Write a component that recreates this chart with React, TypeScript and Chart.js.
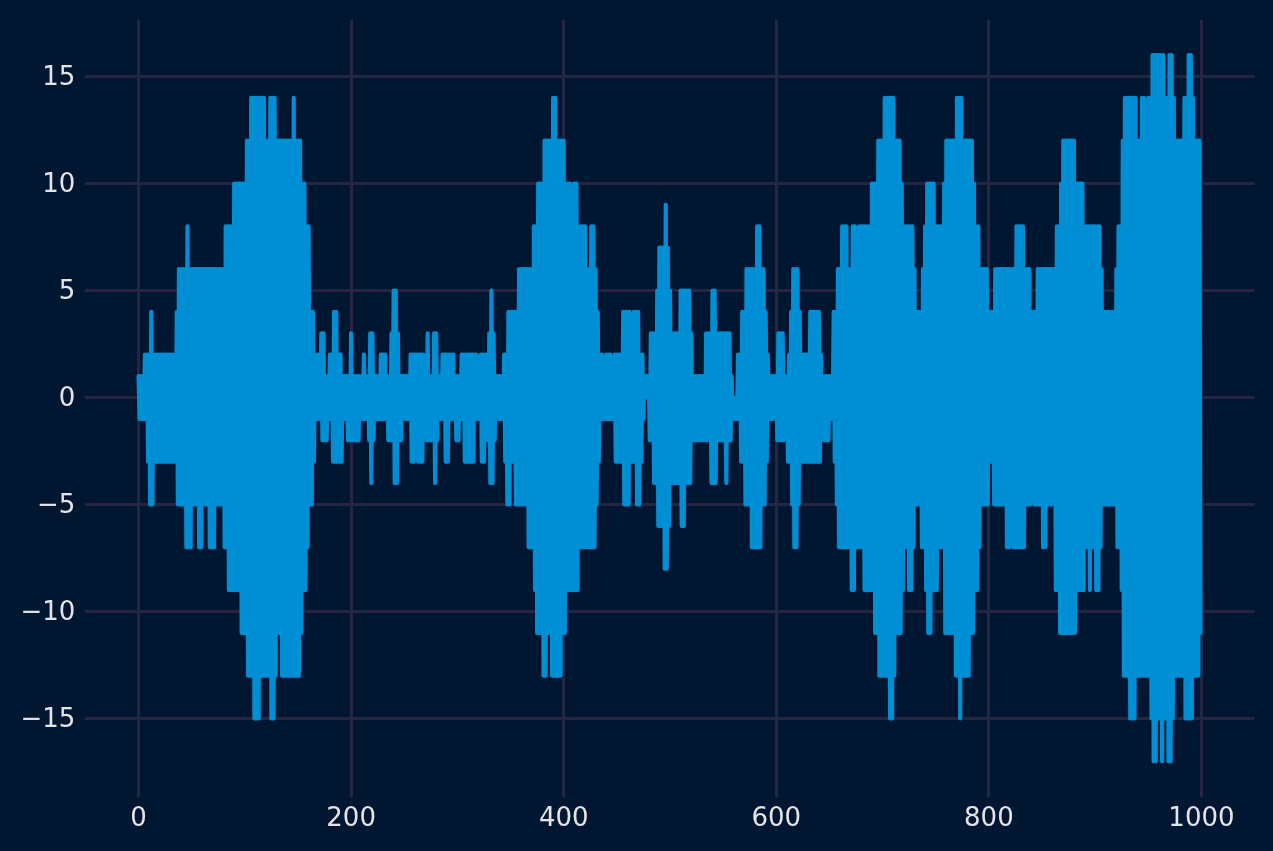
import React, { useEffect, useRef } from "react";
import { Chart, registerables } from "chart.js";

Chart.register(...registerables);

const xTicks = [0, 200, 400, 600, 800, 1000];
const yTicks = [-15, -10, -5, 0, 5, 10, 15];

const upperStart = [-2,3.5,9.7,14,33.5,37,44.9,48.6,81,89,100.6,104.7,118.8,122.6,128.8,145,148.5,153,157,160.8,162.7,165,171,176,179,183,188.4,192.4,197.8,201.5,211,214.7,215.9,222,226.9,233.2,236,239.2,243.9,246.4,254.9,269,269.9,274,275.9,282.1,285,296.9,302.8,319.1,320.7,327.6,330.4,333.5,336,342.9,345.4,356.7,371.1,373.3,379.3,389,392.8,401.2,407.5,409,412.8,420.9,425,428.8,431.3,433.2,436.9,439.1,444.8,447,455.1,463.3,465.2,472.7,475.1,479.8,486.1,488.3,493.9,498,500.2,502.1,507.7,520,522.1,532.2,537.8,544.1,558.2,559.8,561.3,567,571,581.1,584.8,589.2,591.1,593.3,599.9,608,609.3,611.5,615.2,621.2,623.1,630.9,641.2,643.1,651.3,653.1,655.3,659.4,667.6,669.4,675.1,677,687.3,693.3,701.1,711.1,717.1,719.3,729.3,731.2,735.3,737.5,741,749.4,757.2,759.1,769.1,775.4,784.8,787,791.4,799.2,804.9,825.2,833.1,839.3,843.4,861.3,865.4,869.1,881.3,889.2,905.5,907.4,917.4,919.3,923.3,925.2,927.1,939.6,941.5,947.8,949,951.5,965.6,967.5,973.2,975.4,981.3,985.4,991.3,993.5,999.5];
const upperLevel = [1,2,4,2,4,6,8,6,8,10,12,14,12,14,12,14,12,10,8,6,4,2,3,1,2,4,2,1,3,1,2,1,3,1,2,1,3,5,3,1,2,1,3,1,3,1,2,1,2,0,2,3,5,3,1,2,4,6,8,10,12,14,12,10,8,10,8,6,8,6,4,2,1,2,1,2,4,2,4,2,1,3,5,7,9,7,5,3,5,3,1,3,5,3,1,0,2,4,6,8,6,4,2,1,3,1,2,4,6,4,2,4,2,1,2,4,6,8,6,8,6,8,10,12,14,12,10,8,6,4,6,8,10,8,10,12,14,12,10,8,6,4,6,8,6,4,6,8,10,12,10,8,6,4,6,8,10,12,14,12,14,12,14,16,14,16,14,12,14,16,14,12,10];

const lowerStart = [-2,7.5,9.7,14.1,35.7,43.6,49.9,55.5,60.2,66.1,72.1,80.2,84,95.9,101.9,107.8,113.8,123.8,127.9,131.7,133.8,152.3,154.2,158,161.7,163.9,166.1,171.1,179,181.8,191.8,194.6,208.7,209.7,215,216.9,220.7,222.8,232.9,238.9,244.8,249.5,250.2,255.8,260.2,262,268,269,276.8,281.2,283.1,287.8,292.2,297.2,302.8,305.6,316,321.6,326.3,329.1,335.1,337,337.9,343.6,346.1,349.8,353.6,365.8,371.8,374,379.9,384,388,398,402.2,414.1,430,432.3,434.4,447.9,456,462,468,472,474.2,476.7,478.6,483,487,492.7,499.3,501.1,508.7,515,520.6,536.9,545.3,551,555.4,559.4,566,569.8,576,586.4,590.5,592.7,598.3,599,609.3,610.2,614,615.9,620.2,622.4,642.2,643.1,651.3,653.1,654.4,658.2,670,674.1,682,692,696.1,704.5,710.2,712.1,718,720.2,724,728.4,730.6,736.2,738.4,742.2,746.3,752.2,756.3,758.2,766.3,770.4,774.2,782.3,786,790.5,792.3,800.2,804,816.2,820.5,821.8,834.3,840.9,842.2,850,854.7,860.3,862.2,866,882.3,890.4,892.3,896.4,900.2,904.5,906.4,918.3,922.4,924.3,926.2,932.1,938.4,950.3,952.5,958.4,960.3,964.4,968.2,972.2,974.1,982.3,992.3,998.2];
const lowerLevel = [-1,-3,-5,-3,-5,-7,-5,-7,-5,-7,-5,-7,-9,-11,-13,-15,-13,-15,-13,-11,-13,-11,-9,-7,-5,-3,-1,-2,-1,-3,-1,-2,0,-1,-2,-4,-2,-1,-2,-4,-2,0,-1,-3,-1,-3,-1,-2,-4,-2,-1,-3,-1,-2,-1,-3,-1,-3,-2,-4,-2,0,-1,-3,-5,-3,-5,-7,-9,-11,-13,-11,-13,-11,-9,-7,-5,-3,-1,-3,-5,-3,-5,-3,-1,0,-2,-4,-6,-8,-6,-4,-6,-4,-2,-4,-2,-4,-2,-1,-3,-5,-7,-5,-3,-1,0,-2,-1,-3,-5,-7,-5,-3,-1,-2,-1,-3,-5,-7,-9,-7,-9,-11,-13,-15,-13,-11,-9,-7,-9,-7,-5,-7,-9,-11,-9,-7,-9,-11,-13,-15,-13,-11,-9,-7,-5,-3,-5,-7,-5,-7,-5,-3,-5,-7,-5,-7,-9,-11,-9,-7,-9,-7,-9,-7,-5,-7,-9,-11,-13,-15,-13,-15,-17,-15,-17,-15,-17,-15,-13,-15,-13,-11];

const LAST_X = 999;

// Run-length tables above hold the outline; expand them to one point per x.
function levelsAround(starts: number[], levels: number[], x: number): number[] {
  const out: number[] = [];
  const reach = 0.7;
  for (let i = 0; i < starts.length; i++) {
    const end = i + 1 < starts.length ? starts[i + 1] : LAST_X + 3;
    if (starts[i] <= x + reach && end >= x - reach) out.push(levels[i]);
  }
  return out;
}

const seriesX: number[] = [];
const seriesY: number[] = [];
for (let x = 0; x <= LAST_X; x++) {
  seriesX.push(x);
  seriesY.push(
    x % 2 === 0
      ? Math.min(...levelsAround(upperStart, upperLevel, x))
      : Math.max(...levelsAround(lowerStart, lowerLevel, x))
  );
}

const BG = "#001631";
const GRID = "#262642";
const LINE = "#008fd5";
const TEXT = "#e4e4e4";

export default function App() {
  const ref = useRef<HTMLCanvasElement>(null);
  useEffect(() => {
    document.body.style.margin = "0";
    document.body.style.background = BG;
    const chart = new Chart(ref.current!, {
      type: "line",
      data: {
        labels: seriesX,
        datasets: [
          {
            data: seriesX.map((x, i) => ({ x, y: seriesY[i] })),
            borderColor: LINE,
            borderWidth: 4.2,
            borderCapStyle: "round",
            borderJoinStyle: "round",
            pointRadius: 0,
            tension: 0,
            fill: false,
          },
        ],
      },
      options: {
        animation: false,
        responsive: false,
        normalized: true,
        layout: { padding: { top: 19.8, right: 18.4, left: 0, bottom: 0 } },
        plugins: { legend: { display: false }, tooltip: { enabled: false } },
        scales: {
          x: {
            type: "linear",
            min: -50,
            max: 1050,
            afterBuildTicks: (s: any) => {
              s.ticks = xTicks.map((value) => ({ value }));
            },
            afterFit: (s: any) => {
              s.height = 54.4;
              s.paddingLeft = 0;
              s.paddingRight = 0;
            },
            grid: { color: GRID, lineWidth: 3, drawTicks: false },
            border: { display: false },
            ticks: {
              color: TEXT,
              font: { family: "DejaVu Sans", size: 26 },
              padding: 7,
              maxRotation: 0,
              autoSkip: false,
              callback: (v: any) => String(v),
            },
          },
          y: {
            type: "linear",
            min: -18.65,
            max: 17.65,
            afterBuildTicks: (s: any) => {
              s.ticks = yTicks.map((value) => ({ value }));
            },
            afterFit: (s: any) => {
              s.width = 85.4;
              s.paddingTop = 0;
              s.paddingBottom = 0;
            },
            grid: { color: GRID, lineWidth: 3, drawTicks: false },
            border: { display: false },
            ticks: {
              color: TEXT,
              font: { family: "DejaVu Sans", size: 26 },
              padding: 10,
              labelOffset: 2,
              autoSkip: false,
              callback: (v: any) => String(v).replace("-", "\u2212"),
            },
          },
        },
      },
      plugins: [
        {
          id: "bg",
          beforeDraw: (c: any) => {
            c.ctx.save();
            c.ctx.fillStyle = BG;
            c.ctx.fillRect(0, 0, c.width, c.height);
            c.ctx.restore();
          },
        },
      ],
    } as any);
    return () => chart.destroy();
  }, []);
  return <canvas ref={ref} width={1273} height={851} style={{ display: "block" }} />;
}
